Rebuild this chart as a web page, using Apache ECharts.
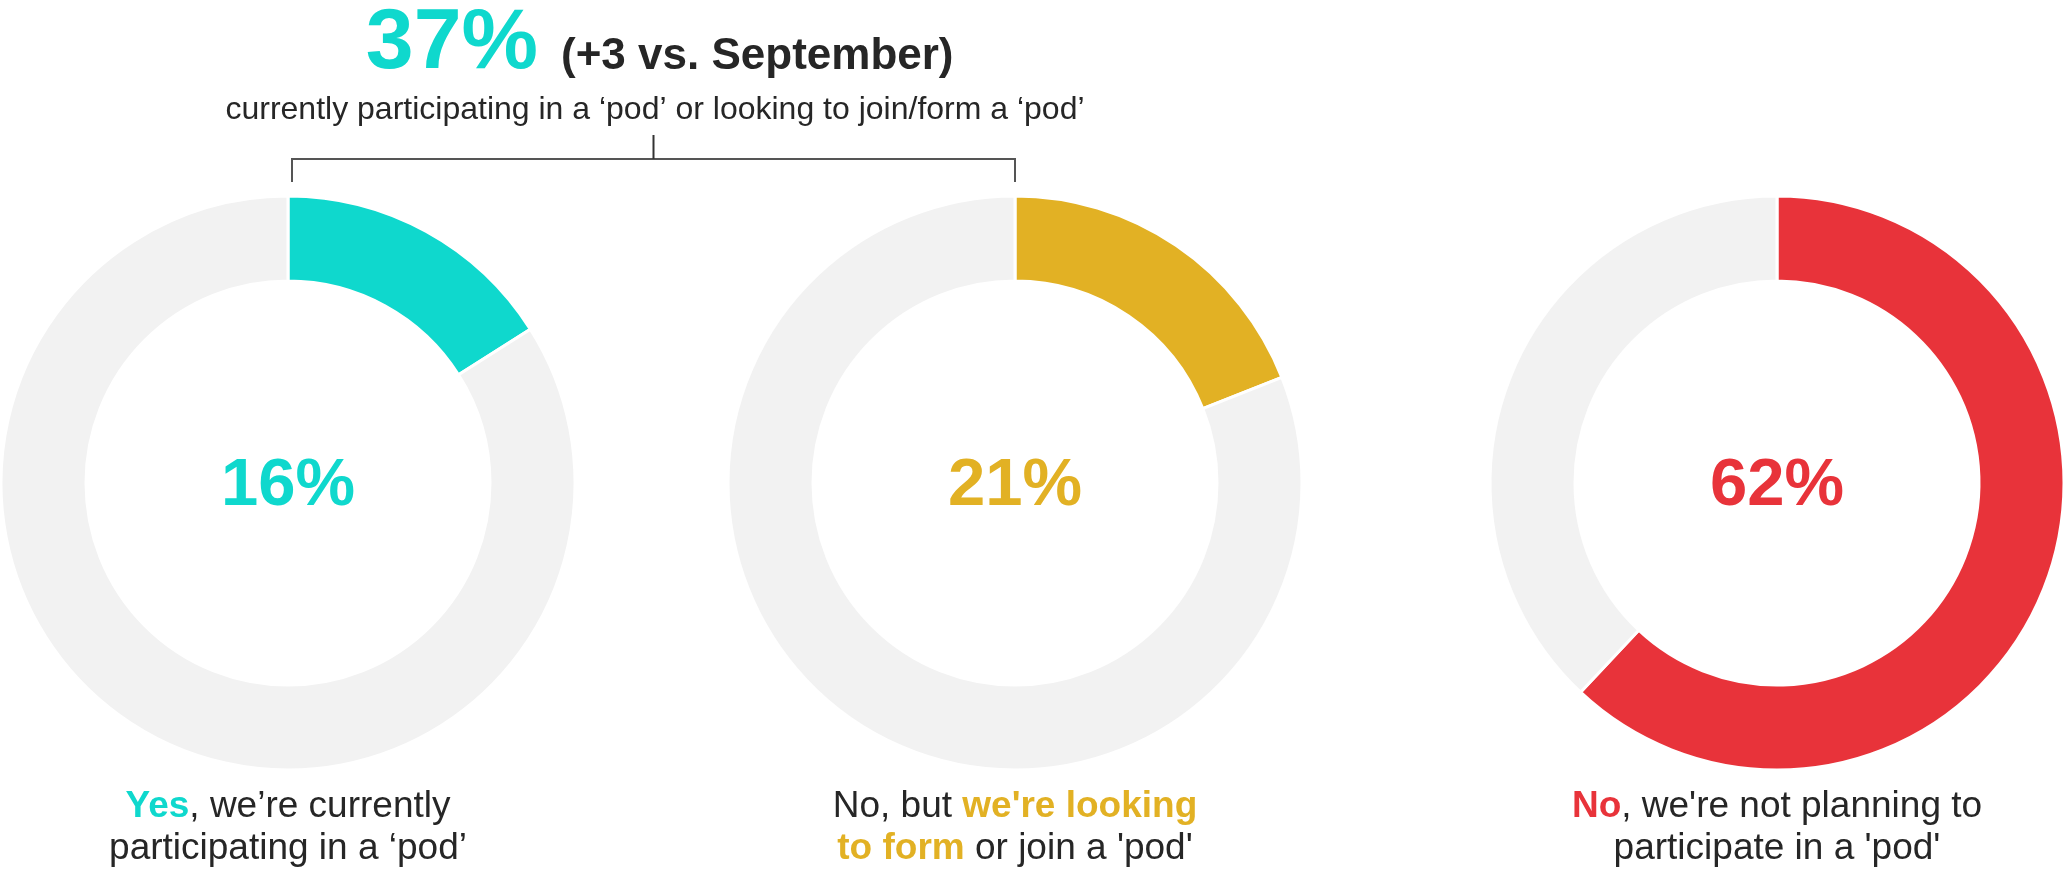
<!DOCTYPE html>
<html><head><meta charset="utf-8">
<script src="https://cdn.jsdelivr.net/npm/echarts@6/dist/echarts.min.js"></script>
<style>html,body{margin:0;padding:0;background:#fff}#c{width:2067px;height:872px}</style>
</head><body><div id="c"></div>
<script>
// ---- data ----
const categories = ['Yes', 'No, but looking to form or join', 'No'];
const arcValues = [16, 19, 62];           // slice sizes as drawn
const restValues = [84, 81, 38];          // grey remainder of each ring
const pctLabels = ['16%', '21%', '62%'];
const headlineValue = '37%';
const headlineChange = '(+3 vs. September)';
const headlineText = 'currently participating in a ‘pod’ or looking to join/form a ‘pod’';
const answerTexts = [
  '{h|Yes}{n|, we’re currently}\n{n|participating in a ‘pod’}',
  "{n|No, but }{h|we're looking}\n{h|to form}{n| or join a 'pod'}",
  "{h|No}{n|, we're not planning to}\n{n|participate in a 'pod'}"
];

// ---- style ----
const FONT = '"Liberation Sans", Arial, sans-serif';
const colors = ['#0FD8CD', '#E2B124', '#E8333A'];
const grey = '#F2F2F2';
const dark = '#262626';
const centers = [[288, 483], [1015, 483], [1777, 483]];
const radius = [202, 287];

const chart = echarts.init(document.getElementById('c'), null, {renderer: 'canvas'});

const series = arcValues.map((v, i) => ({
  type: 'pie',
  center: centers[i],
  radius: radius,
  startAngle: 90,
  clockwise: true,
  silent: true,
  animation: false,
  avoidLabelOverlap: false,
  labelLine: {show: false},
  label: {show: false},
  emphasis: {disabled: true},
  itemStyle: {borderColor: '#fff', borderWidth: 3},
  data: [
    {value: v, name: categories[i], itemStyle: {color: colors[i]},
     label: {show: true, position: 'center', formatter: pctLabels[i], fontSize: 67,
             fontWeight: 'bold', color: colors[i], fontFamily: FONT, offset: [0, 4]}},
    {value: restValues[i], name: 'rest', itemStyle: {color: grey}, label: {show: false}}
  ]
}));

function richFor(color) {
  return {
    h: {fontSize: 37, fontWeight: 'bold', fill: color, color: color, fontFamily: FONT, lineHeight: 42, align: 'center'},
    n: {fontSize: 37, fill: dark, color: dark, fontFamily: FONT, lineHeight: 42, align: 'center'}
  };
}

const bx0 = centers[0][0] + 4, bx1 = centers[1][0], by = 159, bmid = (bx0 + bx1) / 2;

const graphic = [
  {type: 'text', x: 538, y: 44, silent: true,
   style: {text: headlineValue, fill: colors[0], fontSize: 86, fontWeight: 'bold', fontFamily: FONT,
           align: 'right', verticalAlign: 'middle', textAlign: 'right', textVerticalAlign: 'middle'}},
  {type: 'text', x: 561, y: 57, silent: true,
   style: {text: headlineChange, fill: dark, fontSize: 44, fontWeight: 'bold', fontFamily: FONT,
           align: 'left', verticalAlign: 'middle', textAlign: 'left', textVerticalAlign: 'middle'}},
  {type: 'text', x: 655, y: 110, silent: true,
   style: {text: headlineText, fill: dark, fontSize: 32, fontFamily: FONT,
           align: 'center', verticalAlign: 'middle', textAlign: 'center', textVerticalAlign: 'middle'}},
  {type: 'polyline', silent: true,
   shape: {points: [[bx0, 182], [bx0, by], [bx1, by], [bx1, 182]]},
   style: {stroke: '#555555', lineWidth: 2, fill: null}},
  {type: 'line', silent: true,
   shape: {x1: bmid, y1: 135, x2: bmid, y2: by},
   style: {stroke: '#333333', lineWidth: 2}}
];

answerTexts.forEach((t, i) => {
  graphic.push({type: 'text', x: centers[i][0], y: 828, silent: true,
    style: {text: t, rich: richFor(colors[i]), fill: dark, fontSize: 37, fontFamily: FONT,
            align: 'center', verticalAlign: 'middle', textAlign: 'center', textVerticalAlign: 'middle'}});
});

chart.setOption({
  backgroundColor: '#fff',
  animation: false,
  series: series,
  graphic: graphic
});
</script>
</body></html>
